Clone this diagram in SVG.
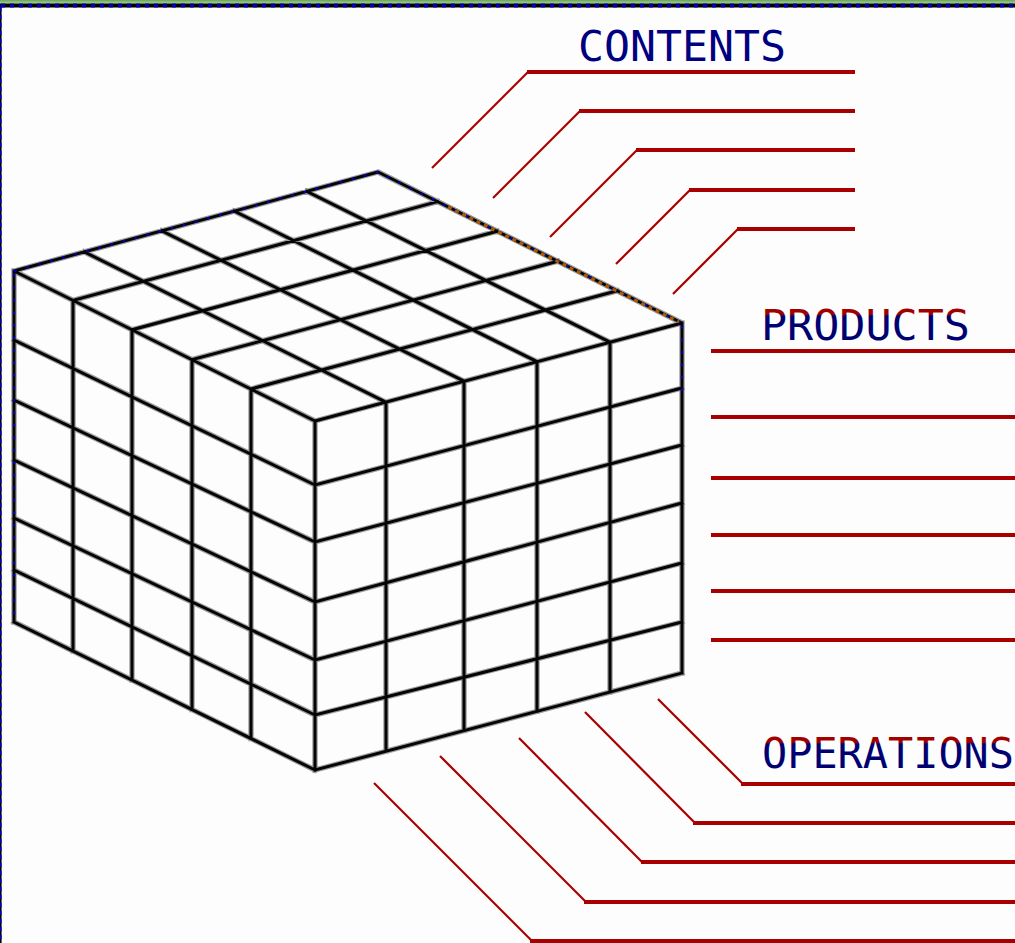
<svg xmlns="http://www.w3.org/2000/svg" width="1015" height="943" viewBox="0 0 1015 943">
<style>
.under{fill:none;stroke:#9c9c9c;stroke-width:5.4;stroke-linecap:square;stroke-linejoin:round}
.ink{fill:none;stroke:#050505;stroke-width:3;stroke-linecap:square;stroke-linejoin:round}
.bluedots{fill:none;stroke:#0000c0;stroke-width:2.4;stroke-dasharray:2.5 10}
.lead{fill:none;stroke:#a80000;stroke-width:2.2;stroke-linecap:butt}
.bar{fill:none;stroke:#a80000;stroke-width:4}
.lbl{font-family:"DejaVu Sans Mono","Liberation Mono",monospace;font-size:42px}
</style>
<defs>
<linearGradient id="topband" x1="0" y1="0" x2="0" y2="1">
<stop offset="0" stop-color="#6aa658"/>
<stop offset="1" stop-color="#a9d58f"/>
</linearGradient>
<linearGradient id="gProd" gradientUnits="userSpaceOnUse" x1="0" y1="310" x2="0" y2="340">
<stop offset="0" stop-color="#a00000"/>
<stop offset="0.14" stop-color="#a00000"/>
<stop offset="0.2" stop-color="#000070"/>
<stop offset="1" stop-color="#000070"/>
</linearGradient>
<linearGradient id="gOper" gradientUnits="userSpaceOnUse" x1="0" y1="738" x2="0" y2="768">
<stop offset="0" stop-color="#a00000"/>
<stop offset="0.14" stop-color="#a00000"/>
<stop offset="0.2" stop-color="#000070"/>
<stop offset="1" stop-color="#000070"/>
</linearGradient>
</defs>

<rect x="0" y="0" width="1015" height="943" fill="#fdfdfd"/>

<g id="frame">
<rect x="0" y="0" width="1015" height="3.6" fill="url(#topband)"/>
<line x1="0" y1="5.5" x2="1015" y2="5.5" stroke="#000" stroke-width="4"/>
<line x1="1" y1="5.5" x2="1015" y2="5.5" stroke="#0000b0" stroke-width="4" stroke-dasharray="4 5"/>
<line x1="0.8" y1="7" x2="0.8" y2="943" stroke="#000" stroke-width="1.6"/>
<line x1="0.8" y1="7" x2="0.8" y2="943" stroke="#0000d0" stroke-width="1.6" stroke-dasharray="4 4"/>
</g>

<g id="cube">
<path class="under" d="M14,271 L378,172 L682,323 L315,421 Z M73,300.4 L437.6,201.6 M132,329.8 L497.2,231.2 M191.9,359.7 L557.7,261.2 M250.9,389 L617.2,290.8 M84.3,251.9 L385.8,402.1 M161.8,230.8 L464,381.2 M234.2,211.1 L537,361.7 M306.7,191.4 L610,342.2 M14,271 V622 M73,300.4 V651 M132,329.8 V680 M192,359.7 V709.5 M251,389 V738.5 M315,421 V770 M14,340 L315,485 M14,400 L315,542 M14,460 L315,602 M14,518 L315,660 M14,570 L315,715 M14,622 L315,770 M386,402 V751 M464,381.2 V730.6 M537,361.7 V711.3 M610,342.2 V692 M682,323 V673 M315,485 L682,388 M315,542 L682,445 M315,602 L682,503 M315,660 L682,563 M315,715 L682,622 M315,770 L682,673"/>
<path class="ink" d="M14,271 L378,172 L682,323 L315,421 Z M73,300.4 L437.6,201.6 M132,329.8 L497.2,231.2 M191.9,359.7 L557.7,261.2 M250.9,389 L617.2,290.8 M84.3,251.9 L385.8,402.1 M161.8,230.8 L464,381.2 M234.2,211.1 L537,361.7 M306.7,191.4 L610,342.2 M14,271 V622 M73,300.4 V651 M132,329.8 V680 M192,359.7 V709.5 M251,389 V738.5 M315,421 V770 M14,340 L315,485 M14,400 L315,542 M14,460 L315,602 M14,518 L315,660 M14,570 L315,715 M14,622 L315,770 M386,402 V751 M464,381.2 V730.6 M537,361.7 V711.3 M610,342.2 V692 M682,323 V673 M315,485 L682,388 M315,542 L682,445 M315,602 L682,503 M315,660 L682,563 M315,715 L682,622 M315,770 L682,673"/>
<path class="bluedots" d="M14,271 L378,172 L682,323 M14,274 V622 M682,326 V400"/>
<path d="M448,207 L679,322" fill="none" stroke="#b05a00" stroke-width="3" stroke-dasharray="4 4"/>
</g>

<g id="connectors">
<path class="lead" d="M432,168 L528,72"/>
<path class="lead" d="M493,198 L580,111"/>
<path class="lead" d="M550,237 L637,150"/>
<path class="lead" d="M616,264 L690,190"/>
<path class="lead" d="M673,294 L738,229"/>
<path class="bar" d="M527,72 H855 M579,111 H855 M636,150 H855 M689,190 H855 M737,229 H855"/>
<path class="bar" d="M711,351 H1015 M711,417 H1015 M711,478 H1015 M711,535 H1015 M711,591 H1015 M711,640 H1015"/>
<path class="lead" d="M658,699 L742,783"/>
<path class="lead" d="M585,712 L694,822"/>
<path class="lead" d="M519,738 L642,862"/>
<path class="lead" d="M440,756 L585,901"/>
<path class="lead" d="M374,783 L531,940"/>
<path class="bar" d="M741,784 H1015 M693,823 H1015 M641,862 H1015 M584,902 H1015 M530,941 H1015"/>
</g>

<g id="label-contents">
<text class="lbl" x="578" y="61" fill="#000080" textLength="208" lengthAdjust="spacingAndGlyphs">CONTENTS</text>
</g>
<g id="label-products">
<text class="lbl" x="761" y="340" fill="url(#gProd)" textLength="209" lengthAdjust="spacingAndGlyphs">PRODUCTS</text>
</g>
<g id="label-operations">
<text class="lbl" x="762" y="768" fill="url(#gOper)" textLength="252" lengthAdjust="spacingAndGlyphs">OPERATIONS</text>
</g>
</svg>
